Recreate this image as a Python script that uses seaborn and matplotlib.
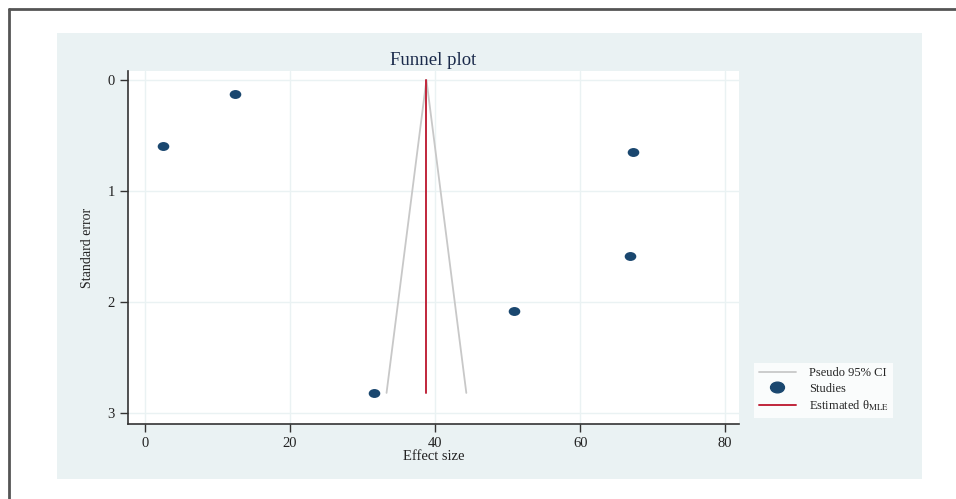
import matplotlib
matplotlib.use("Agg")
import matplotlib.pyplot as plt
import seaborn as sns
import pandas as pd
from matplotlib.lines import Line2D
from matplotlib.patches import Rectangle
from matplotlib.path import Path
from matplotlib.transforms import Affine2D

# study estimates
effect_size = [2.5, 12.4, 67.3, 66.9, 50.9, 31.6]
std_error = [0.60, 0.13, 0.65, 1.59, 2.08, 2.82]

# pooled estimate and pseudo 95% CI funnel
theta_mle = 38.8
se_max = 2.82
ci_x = [33.3, 38.8, 44.3]
ci_y = [2.82, 0.0, 2.82]

x_ticks = [0, 20, 40, 60, 80]
y_ticks = [0, 1, 2, 3]

NAVY = "#1A476F"
RED = "#C0263B"
GRAY = "#C8C8C8"
PANEL = "#EAF2F3"

# Stata-style markers are slightly wider than tall
ELLIPSE = Path.unit_circle().transformed(Affine2D().scale(1.3, 1.0))

sns.set_theme(style="white")
plt.rcParams["font.family"] = ["Liberation Serif", "DejaVu Serif"]
plt.rcParams["mathtext.fontset"] = "stix"

fig = plt.figure(figsize=(9.56, 4.99), dpi=100)
# outer frame (left and top edges) and light panel
fig.add_artist(Line2D([9 / 956, 9 / 956], [0, 1 - 9 / 499], color="#555555", lw=2))
fig.add_artist(Line2D([9 / 956, 1], [1 - 9 / 499, 1 - 9 / 499], color="#555555", lw=2))
fig.add_artist(Rectangle((57 / 956, 1 - 479 / 499), 865 / 956, 446 / 499,
                         facecolor=PANEL, edgecolor="none", zorder=0))

ax = fig.add_axes([128 / 956, 1 - 424 / 499, 611 / 956, 353 / 499])
ax.set_facecolor("white")

df = pd.DataFrame({"effect": effect_size, "se": std_error})
ci_df = pd.DataFrame({"x": ci_x, "y": ci_y})

sns.lineplot(data=ci_df, x="x", y="y", sort=False, color=GRAY, lw=1.3, ax=ax)
ax.plot([theta_mle, theta_mle], [0, se_max], color=RED, lw=1.4)
sns.scatterplot(data=df, x="effect", y="se", color=NAVY, s=70, marker=ELLIPSE,
                edgecolor=NAVY, linewidth=0, ax=ax, zorder=3)

ax.set_xlim(-2.35, 81.9)
ax.set_ylim(3.10, -0.08)
ax.set_xticks(x_ticks)
ax.set_yticks(y_ticks)
ax.grid(True, color=PANEL, lw=1)
ax.set_axisbelow(True)

for s in ["top", "right"]:
    ax.spines[s].set_visible(False)
for s in ["left", "bottom"]:
    ax.spines[s].set_color("#333333")
    ax.spines[s].set_linewidth(1.2)
ax.tick_params(axis="both", which="both", direction="out", length=6, width=1,
               color="#333333", labelsize=10.5, labelcolor="#222222", left=True, bottom=True)

ax.set_xlabel("Effect size", fontsize=10.5, labelpad=0, color="#222222")
ax.set_ylabel("Standard error", fontsize=10, labelpad=10, color="#222222")
ax.set_title("Funnel plot", fontsize=13.5, color="#1A2A4A", pad=4)

handles = [
    Line2D([], [], color=GRAY, lw=1.3),
    Line2D([], [], color=NAVY, marker=ELLIPSE, ls="none", markersize=10),
    Line2D([], [], color=RED, lw=1.4),
]
labels = ["Pseudo 95% CI", "Studies", "Estimated θ$_{\\mathrm{MLE}}$"]
leg = fig.legend(handles, labels, loc="lower left",
                 bbox_to_anchor=(748 / 956, 1 - 424 / 499),
                 frameon=True, fontsize=9, handlelength=3.0,
                 borderpad=0.35, labelspacing=0.3, handletextpad=1.0)
leg.get_frame().set_facecolor("white")
leg.get_frame().set_edgecolor("none")
leg.get_frame().set_boxstyle("square", pad=0)

fig.savefig("out.png", dpi=100)
